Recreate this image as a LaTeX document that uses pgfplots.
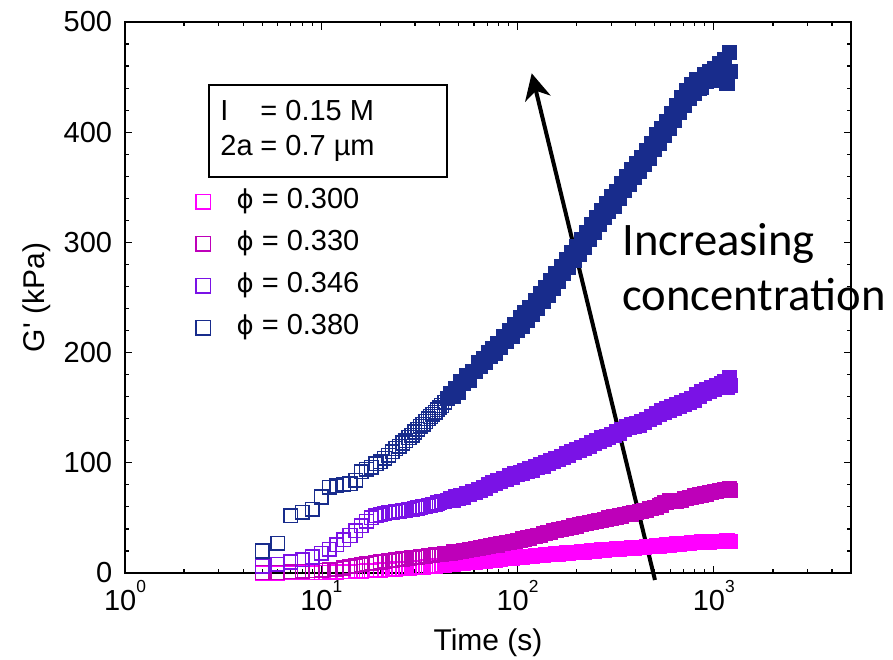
\documentclass[border=0pt]{standalone}
\usepackage{fontspec}
\setmainfont{Liberation Sans}
\newfontfamily\plainsans{Liberation Sans}
\newfontfamily\phifont{DejaVu Sans}
\newfontfamily\calibri{Carlito}
\usepackage{pgfplots}
\usepackage{pgfplotstable}
\pgfplotsset{compat=1.18}
\usetikzlibrary{arrows.meta}

\definecolor{cA}{RGB}{255,0,255}
\definecolor{cB}{RGB}{190,0,185}
\definecolor{cC}{RGB}{122,18,230}
\definecolor{cD}{RGB}{24,44,140}

\newcommand\dec[1]{10\raisebox{9.2pt}{\fontsize{8.7}{9}\selectfont #1}}
\newcommand\ph{{\phifont\fontsize{13}{15}\selectfont\symbol{"03D5}}}

\pgfplotstableread{
t A B C D
5 0 0.5 6 20
6 0 0.5 8 27
7 0.2 1 10 52
8 0.3 1.5 12 55
9 0.4 2 14.5 58
10 0.5 2.5 18 69
11 0.7 3 21.5 78
12 0.9 3.5 25.5 79
13 1.1 4.5 30 80.5
14 1.3 5.5 34 81
15 1.5 6.5 38.5 84
16 1.7 7.5 43 92
17 1.9 8.3 47 94
18 2.1 9 50 96
19 2.4 9.5 52 99
20 2.7 10 53 101
21 2.9 10.5 54 104
22 3.1 11 54.5 107
23 3.3 11.5 55 110
24 3.6 12 55.5 113
25 3.8 12.3 56 115
26 4 12.7 56.5 118
27 4.2 13 57 120
28 4.4 13.3 57.5 123
29 4.6 13.7 58 125
30 4.8 14 58.5 128
31 5 14.3 59 130.5
32 5.2 14.6 59.5 133
33 5.4 14.9 60 135
34 5.6 15.2 60.5 137.5
35 5.8 15.5 61 140
36 6 15.8 61.5 142
37 6.2 16.1 62 144
38 6.4 16.4 62.5 146
39 6.6 16.7 63.5 148
40 6.8 17 64 150
41 7 17.2 64.5 152
42.5 7.2 17.6 65 155
44 7.5 18 66 158
45.5 7.9 18.1 67.5 163
47 7.8 19.2 66 160
48.5 8.4 18.9 69 167.5
50 8.3 19.8 68 164
51.5 8.9 19.5 70.5 174
53 8.7 20.5 69 172
55 9.4 20.2 72 179
57 9.3 21.4 71 175
59 10 21.2 74 183
61 9.8 22.3 73 182.5
63 10.5 22.2 76 191
65 10.3 23.4 75 187
67 10.9 23.1 78 195
69 10.8 24.2 77 191
71 11.4 23.9 80 200
73 11.2 24.9 79 196.5
75 11.9 24.6 82 204
77 11.7 25.7 81 199.5
79 12.3 25.4 84 208.5
82 12.2 26.6 83 205
85 12.9 26.5 86 215
88 12.8 27.8 85 210
91 13.4 27.7 88 220
94 13.3 28.9 87 215
97 13.9 28.7 90 225.5
100 13.8 29.9 89 220
103 14.4 29.7 91.5 231.5
106 14.2 30.9 90.5 224
109 14.8 30.7 93 236.5
112 14.6 31.9 92 229
115 15.2 31.7 94.5 241
119 15.1 33.1 93.5 234.5
123 15.7 33 96.5 247.5
127 15.6 34.4 95.5 240.5
131 16.2 34.4 98 254
135 16 35.7 97 246
139 16.6 35.7 100 259
143 16.4 37 99 251.5
147 17 36.9 102 265
152 16.8 38.4 101 258.5
157 17.4 38.4 104 272
162 17.2 39.6 103 265
167 17.8 39.4 106 278
172 17.6 40.6 105 271.5
177 18.2 40.4 108 284.5
182 17.9 41.6 107 277
188 18.5 41.5 110 290.5
194 18.3 42.8 109 283.5
200 18.9 42.7 112 296.5
206 18.7 43.9 111 289.5
212 19.3 43.7 114 302.5
218 19.1 44.9 113 295.5
225 19.7 44.7 116 309
232 19.5 45.9 115 302.5
239 20.1 45.7 118 316
246 19.9 46.9 117.5 309
253 20.5 46.7 120.5 322.5
260 20.3 47.9 119.5 316
268 20.9 47.7 122.5 329
276 20.7 48.9 121 322.5
284 21.3 48.7 124 335.5
292 21.1 49.9 123 328.5
301 21.7 49.7 126 341.5
310 21.5 50.9 125 333
319 22 50.7 128 346.5
329 21.8 51.9 127 340
339 22.3 51.7 130.5 353.5
349 22.1 52.9 130 347
359 22.6 52.7 133 360
370 22.4 53.8 132 353
381 22.9 53.5 134.5 366
392 22.7 54.6 133 359
404 23.2 54.5 135.5 372
416 23 55.8 134 364
428 23.5 55.7 137 377
441 23.3 57.1 136.5 370.5
454 23.9 57 139.5 383.5
468 23.7 58.4 139 376.5
482 24.3 58.4 142 390
496 24.1 59.8 141.5 384
511 24.7 59.7 145 397.5
526 24.5 60.9 144 390
542 25.1 61.7 147.5 403.5
558 24.9 63.9 146 397
575 25.5 64.2 149.5 410
592 25.3 65.4 147.5 403
610 25.9 64.7 151 416.5
628 25.7 65.6 149 410.5
647 26.3 65.1 152.5 424
666 26.1 66 151 417.5
686 26.7 66.2 154.5 431
707 26.5 67.9 153 424.5
728 27.1 67.7 156.5 437.5
750 26.9 68.9 155 430.5
772 27.5 68.7 158.5 443
795 27.3 69.9 157 435.5
819 27.9 69.7 161.5 448
844 27.7 70.9 160 440
869 28.2 70.7 164.5 441
895 27.9 71.9 163 452
922 28.4 71.7 166.5 446
950 28.1 72.9 165 455
978 28.6 72.7 168.5 449
1007 28.3 73.9 167 458
1037 28.7 73.7 170.5 447
1068 28.4 74.9 169 462
1100 28.9 74.7 172 450
1133 28.6 75.9 174 466
1167 29 75 168 444
1200 28.7 76.5 177 472
1220 28.2 74.5 170 455
}\data

\pgfplotsset{
  early/.style={only marks, mark=square, mark size=3.4pt, mark options={line width=0.75pt},
    skip coords between index={38}{200}},
  late/.style={only marks, mark=square*, mark size=3.4pt, mark options={line width=0.75pt},
    skip coords between index={0}{38}, forget plot},
}

\begin{document}
\begin{tikzpicture}
\begin{axis}[
  scale only axis, width=363pt, height=275.5pt,
  xmode=log, xmin=1, xmax=5000, ymin=0, ymax=500,
  xtick={1,10,100,1000},
  xticklabels={\dec{0},\dec{1},\dec{2},\dec{3}},
  minor xtick={2,3,4,5,6,7,8,9,20,30,40,50,60,70,80,90,200,300,400,500,600,700,800,900,2000,3000,4000},
  ytick={0,100,200,300,400,500},
  yticklabels={0\hspace{-4.5pt},100,200,300,400,500},
  minor y tick num=4,
  tick align=inside,
  major tick length=3.75pt, minor tick length=1.9pt,
  axis line style={line width=0.6pt, black},
  every tick/.style={black, line width=0.6pt},
  tick label style={font=\fontsize{14.5}{17}\selectfont},
  /pgf/number format/assume math mode=true,
  yticklabel style={xshift=-2.9pt},
  xlabel={Time (s)},
  ylabel={{\plainsans G' (kPa)}},
  label style={font=\fontsize{15}{18}\selectfont},
  xlabel style={at={(axis description cs:0.5,0)}, anchor=base, yshift=-38.5pt},
  ylabel style={at={(axis description cs:-0.1212,0.5)}, anchor=center},
  clip=false,
  legend style={draw=none, fill=none, at={(axis description cs:0.0975,0.702)}, anchor=north west,
    inner sep=0pt, font=\fontsize{14.5}{17}\selectfont, row sep=6pt, column sep=13pt,
    nodes={inner sep=0pt, text height=11pt, text depth=4pt}},
  legend cell align=left,
  legend image code/.code={\draw[mark size=3.6pt] plot coordinates {(0pt,0pt)};},
]
\coordinate (SW) at (rel axis cs:0,0);
\coordinate (NE) at (rel axis cs:1,1);
\addplot[early, color=cA] table[x=t, y=A] {\data};
\addlegendentry{\ph\ = 0.300}
\addplot[late, color=cA] table[x=t, y=A] {\data};
\addplot[early, color=cB] table[x=t, y=B] {\data};
\addlegendentry{\ph\ = 0.330}
\addplot[late, color=cB] table[x=t, y=B] {\data};
\addplot[early, color=cC] table[x=t, y=C] {\data};
\addlegendentry{\ph\ = 0.346}
\addplot[late, color=cC] table[x=t, y=C] {\data};
\addplot[early, color=cD] table[x=t, y=D] {\data};
\addlegendentry{\ph\ = 0.380}
\addplot[late, color=cD] table[x=t, y=D] {\data};

\draw[line width=1pt] (rel axis cs:0.1157,0.7187) rectangle (rel axis cs:0.4435,0.8857);
\node[anchor=base west, inner sep=0pt, font=\fontsize{14.5}{17}\selectfont] at (rel axis cs:0.1309,0.8221) {I};
\node[anchor=base west, inner sep=0pt, font=\fontsize{14.5}{17}\selectfont] at (rel axis cs:0.186,0.8221) {= 0.15 M};
\node[anchor=base west, inner sep=0pt, font=\fontsize{14.5}{17}\selectfont] at (rel axis cs:0.1309,0.7586) {2a};
\node[anchor=base west, inner sep=0pt, font=\fontsize{14.5}{17}\selectfont] at (rel axis cs:0.186,0.7586) {= 0.7 µm};

\draw[line width=2pt, -{Stealth[length=13pt,width=13pt,inset=4pt]}] (rel axis cs:0.730,-0.0127) -- (rel axis cs:0.5602,0.9069);

\node[anchor=base west, inner sep=0pt, font=\calibri\fontsize{23.3}{28}\selectfont] at (rel axis cs:0.6846,0.5771) {Increasing};
\node[anchor=base west, inner sep=0pt, font=\calibri\fontsize{23.3}{28}\selectfont] at (rel axis cs:0.6846,0.4773) {concentration};
\end{axis}
\pgfresetboundingbox
\path[use as bounding box] ([shift={(-62.5pt,-43pt)}]SW) rectangle ([shift={(21pt,11pt)}]NE);
\end{tikzpicture}
\end{document}
